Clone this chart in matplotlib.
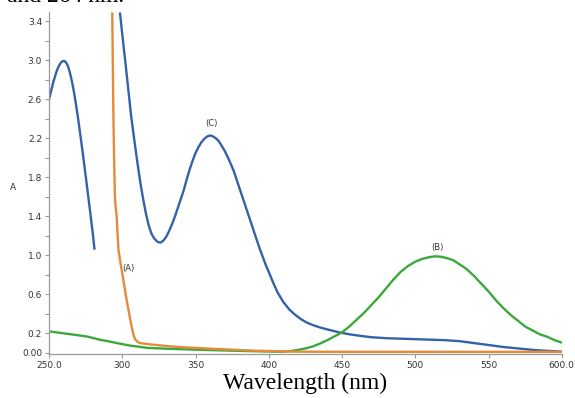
import matplotlib
matplotlib.use("Agg")
from matplotlib import pyplot as plt
from matplotlib.ticker import FixedLocator

# curve (C), short left piece
c_left_x = [250, 251, 252, 253, 254, 255, 256, 257, 258, 259, 260, 261, 262, 263, 264,
            265, 266, 267, 268, 269, 270, 272, 274, 276, 278, 280, 281]
c_left_y = [2.60, 2.66, 2.72, 2.78, 2.83, 2.88, 2.92, 2.95, 2.975, 2.99, 2.995, 2.99, 2.97, 2.94, 2.89,
            2.83, 2.76, 2.68, 2.59, 2.49, 2.39, 2.17, 1.94, 1.70, 1.46, 1.21, 1.07]

# curve (C), main part
c_x = [298.5, 300, 302, 304, 306, 308, 310, 312, 314, 316, 318, 320, 322, 324, 326, 328, 330,
       332, 334, 336, 338, 340, 342, 344, 346, 348, 350, 352, 354, 356, 358, 360, 362, 364,
       366, 368, 370, 372, 374, 376, 378, 380, 382, 384, 386, 388, 390, 392, 394, 396, 398,
       400, 403, 406, 410, 414, 418, 422, 426, 430, 435, 440, 448, 455, 462, 470, 480, 490,
       500, 510, 520, 530, 540, 550, 560, 570, 580, 590, 600]
c_y = [3.48, 3.27, 3.00, 2.72, 2.44, 2.21, 1.99, 1.78, 1.60, 1.44, 1.31, 1.22, 1.17, 1.14, 1.13, 1.15, 1.19,
       1.25, 1.32, 1.40, 1.49, 1.58, 1.67, 1.78, 1.88, 1.97, 2.05, 2.11, 2.16, 2.195, 2.22, 2.23, 2.22, 2.20,
       2.17, 2.12, 2.07, 2.01, 1.94, 1.87, 1.78, 1.69, 1.60, 1.51, 1.42, 1.33, 1.24, 1.15, 1.06, 0.98, 0.90,
       0.83, 0.72, 0.62, 0.52, 0.445, 0.39, 0.345, 0.31, 0.285, 0.26, 0.24, 0.21, 0.19, 0.175, 0.16, 0.15, 0.145,
       0.14, 0.135, 0.13, 0.12, 0.10, 0.08, 0.06, 0.045, 0.03, 0.02, 0.012]

# curve (A)
a_x = [293.2, 293.6, 294.0, 294.5, 295.0, 295.6, 296.2, 296.8, 297.4, 298.5, 299.6, 301.3, 303.0,
       304.5, 306.0, 307.4, 308.7, 310.2, 312, 320, 330, 340, 353, 370, 390, 400, 420, 450,
       500, 550, 600]
a_y = [3.48, 2.90, 2.39, 1.95, 1.60, 1.48, 1.40, 1.22, 1.06, 0.95, 0.85, 0.70, 0.54,
       0.42, 0.30, 0.20, 0.14, 0.115, 0.10, 0.085, 0.07, 0.058, 0.048, 0.035, 0.022, 0.018, 0.012, 0.01,
       0.01, 0.01, 0.01]

# curve (B)
b_x = [250, 260, 270, 276, 285, 290, 299, 305, 310, 317, 330, 353, 380, 400, 405, 410, 415,
       420, 425, 430, 435, 440, 445, 450, 455, 460, 465, 470, 475, 480, 485, 490, 495, 500,
       505, 510, 514, 518, 522, 526, 530, 535, 540, 545, 550, 555, 560, 565, 570, 575, 580,
       585, 590, 595, 600]
b_y = [0.22, 0.20, 0.18, 0.167, 0.133, 0.12, 0.092, 0.075, 0.065, 0.051, 0.042, 0.031, 0.02, 0.013, 0.012, 0.012, 0.018,
       0.03, 0.045, 0.065, 0.095, 0.13, 0.17, 0.21, 0.27, 0.34, 0.41, 0.49, 0.57, 0.66, 0.75, 0.83, 0.89, 0.935,
       0.965, 0.983, 0.99, 0.985, 0.97, 0.95, 0.91, 0.86, 0.79, 0.71, 0.63, 0.54, 0.46, 0.39, 0.33, 0.27, 0.23,
       0.19, 0.165, 0.13, 0.105]

ytick_major = [0.0, 0.2, 0.6, 1.0, 1.4, 1.8, 2.2, 2.6, 3.0, 3.4]
ytick_labels = ["0.00", "0.2", "0.6", "1.0", "1.4", "1.8", "2.2", "2.6", "3.0", "3.4"]
ytick_minor = [0.4, 0.8, 1.2, 1.6, 2.0, 2.4, 2.8, 3.2]
xticks = [250, 300, 350, 400, 450, 500, 550, 600]
xtick_labels = ["250.0", "300", "350", "400", "450", "500", "550", "600.0"]

blue = "#3462a6"
orange = "#e5893a"
green = "#3aa83a"

fig = plt.figure(figsize=(5.75, 3.98), dpi=100)
ax = fig.add_axes([0.0852, 0.1106, 0.8918, 0.86])

ax.plot(c_left_x, c_left_y, color=blue, lw=1.7)
ax.plot(c_x, c_y, color=blue, lw=1.7)
ax.plot(b_x, b_y, color=green, lw=1.7)
ax.plot(a_x, a_y, color=orange, lw=1.7)

ax.text(303.9, 0.86, "(A)", fontsize=6, ha="center", va="center", color="#333333")
ax.text(514.8, 1.08, "(B)", fontsize=6, ha="center", va="center", color="#333333")
ax.text(360.6, 2.35, "(C)", fontsize=6, ha="center", va="center", color="#333333")

ax.set_xlim(250, 600)
ax.set_ylim(-0.012, 3.5)
ax.set_xticks(xticks, xtick_labels)
ax.set_yticks(ytick_major, ytick_labels)
ax.yaxis.set_minor_locator(FixedLocator(ytick_minor))
ax.tick_params(axis="both", which="major", labelsize=6.5, length=3, width=0.8,
               color="#999999", labelcolor="#333333", pad=2)
ax.tick_params(axis="y", which="minor", length=3, width=0.8, color="#999999")

for side in ["top", "right"]:
    ax.spines[side].set_visible(False)
for side in ["left", "bottom"]:
    ax.spines[side].set_color("#999999")
    ax.spines[side].set_linewidth(0.9)

fig.text(13 / 575, 1 - 187 / 398, "A", fontsize=6.5, ha="center", va="center", color="#333333")
fig.text(0.53, 1 - 383 / 398, "Wavelength (nm)", fontsize=17, ha="center", va="center",
         family="Liberation Serif", color="black")
# line of caption text above the chart, only its lower edge is inside the picture
fig.text(7 / 575, 1 - 1.5 / 398, "and 264 nm.", fontsize=17, ha="left", va="baseline",
         family="Liberation Serif", color="black")

fig.savefig("out.png", dpi=100)
